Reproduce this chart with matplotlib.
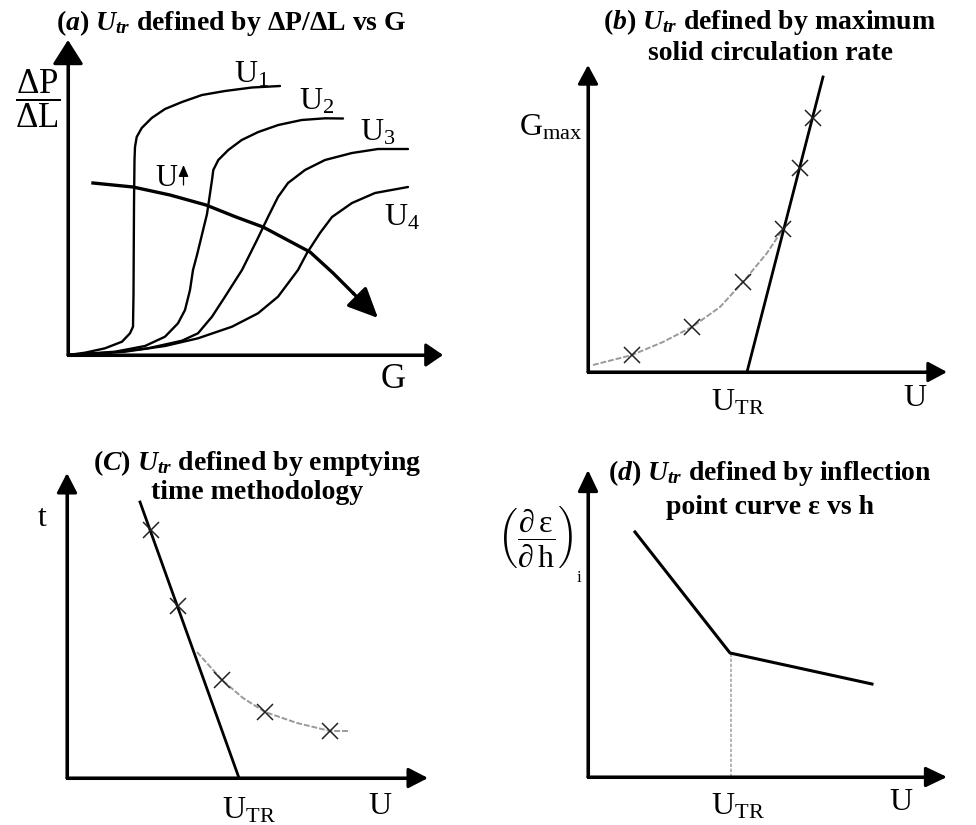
import matplotlib
matplotlib.use("Agg")
import matplotlib.pyplot as plt

# ── fonts: Times-like serif, math pieces use the same family ──
plt.rcParams["font.family"] = ["Liberation Serif", "DejaVu Serif"]
plt.rcParams["mathtext.fontset"] = "custom"
plt.rcParams["mathtext.rm"] = "Liberation Serif:bold"
plt.rcParams["mathtext.it"] = "Liberation Serif:italic:bold"
plt.rcParams["mathtext.bf"] = "Liberation Serif:bold"
plt.rcParams["mathtext.sf"] = "Liberation Serif"

# ── (a) dP/dL vs G, one curve per gas velocity (schematic units) ──
u1_g = [0, 17, 37, 54, 62, 65, 65.5, 66, 66.5, 67, 68.7, 73.7, 83.7, 97, 114, 134, 157, 184, 212]
u1_dp = [0, 2.3, 6.7, 13.3, 21.7, 28.3, 60, 150, 195, 208, 218, 227, 237, 246, 253, 260, 264, 267.5, 269]
u2_g = [0, 47, 77, 97, 110, 117, 122, 125, 129, 139, 144, 145.3, 150.3, 160.3, 173.7, 190.3,
        210.3, 233.7, 257, 275]
u2_dp = [0, 3.3, 9, 18.3, 31.7, 45, 65, 85, 100, 141, 175, 185, 195, 205, 215, 223,
         230, 235, 236.7, 236.5]
u3_g = [0, 37, 80, 114, 130, 144, 157, 174, 189, 200, 210, 220, 237, 257, 284, 310, 340]
u3_dp = [0, 1.7, 6.7, 14.3, 21.7, 38.3, 58.3, 85, 115, 138, 158, 172, 185, 195, 202, 206, 206]
u4_g = [0, 57, 97, 130, 164, 190, 210, 230, 239, 252, 264, 284, 307, 340]
u4_dp = [0, 3.3, 9, 16.7, 28.3, 41.7, 58.3, 85, 102, 122, 138, 152, 162, 168]
trend_g = [25, 65, 102, 138, 168, 195, 242, 265, 285, 310]
trend_dp = [172, 168, 160, 150, 138, 128, 103, 82, 62, 37]
curve_labels = ["U$_\\mathsf{1}$", "U$_\\mathsf{2}$", "U$_\\mathsf{3}$", "U$_\\mathsf{4}$"]

# ── (b) max solid circulation rate vs U ──
gmax_curve_u = [5, 44, 75, 104, 132, 155, 179, 195]
gmax_curve = [7, 17, 30, 45, 65, 90, 119, 143]
gmax_pts_u = [44, 104, 155, 195, 212, 225]
gmax_pts = [17, 45, 90, 143, 204, 254]
gmax_line_u = [159, 235]
gmax_line = [0, 295]

# ── (c) emptying time vs U ──
t_curve_u = [130, 155, 176, 198, 230, 263, 283]
t_curve = [126, 98, 80, 66, 55, 47, 47]
t_pts_u = [84, 111, 155, 198, 263]
t_pts = [248, 172, 98, 66, 47]
t_line_u = [73, 172]
t_line = [276, 0]

# ── (d) inflection-point slope vs U ──
slope_u = [47, 142, 284]
slope = [245, 124, 93]
u_tr_d = 143

FW, FH = 976, 825
fig = plt.figure(figsize=(FW / 100, FH / 100), dpi=100)


def panel(ox, oy, w, h):
    """axes whose origin sits at pixel (ox, oy), 1 data unit = 1 px"""
    ax = fig.add_axes([ox / FW, 1 - oy / FH, w / FW, h / FH])
    ax.set_xlim(0, w)
    ax.set_ylim(0, h)
    ax.set_axis_off()
    return ax


def arrow(ax, tip, start, hl, hw, lw):
    ax.annotate("", xy=tip, xytext=start, annotation_clip=False,
                arrowprops=dict(arrowstyle=f"-|>,head_length={hl},head_width={hw}",
                                mutation_scale=10, lw=lw, color="black",
                                shrinkA=0, shrinkB=0))


def axis_arrows(ax, yhead, xhead, lw=2.2):
    w = ax.get_xlim()[1]
    h = ax.get_ylim()[1]
    ax.plot([0, 0, w - 12], [h - 12, 0, 0], color="black", lw=lw,
            solid_joinstyle="miter", clip_on=False)
    arrow(ax, (0, h), (0, 0), *yhead, lw)
    arrow(ax, (w, 0), (0, 0), *xhead, lw)


def title(px, py, s):
    fig.text(px / FW, 1 - py / FH, s, ha="center", va="center",
             fontsize=20, fontweight="bold")


def label(ax, x, y, s, size=23):
    ax.text(x, y, s, ha="center", va="center", fontsize=size, clip_on=False)


# ── panel (a) ──
ax = panel(68, 355, 375, 315)
axis_arrows(ax, (1.5, 0.95), (1.05, 0.72))
for g, dp in ((u1_g, u1_dp), (u2_g, u2_dp), (u3_g, u3_dp), (u4_g, u4_dp)):
    ax.plot(g, dp, color="black", lw=1.7, solid_joinstyle="round",
            solid_capstyle="round", clip_on=False)
ax.plot(trend_g[:-1], trend_dp[:-1], color="black", lw=2.4,
        solid_joinstyle="round", clip_on=False)
arrow(ax, (trend_g[-1], trend_dp[-1]), (trend_g[-2], trend_dp[-2]), 1.85, 0.85, 2.4)
for (x, y), s in zip([(184, 280), (249, 253), (310, 222), (334, 137)], curve_labels):
    label(ax, x, y, s)
label(ax, 98, 176, "U", size=22)
arrow(ax, (115.5, 190), (115.5, 170), 0.7, 0.3, 0.9)
label(ax, -30, 256, r"$\dfrac{\mathsf{\Delta P}}{\mathsf{\Delta L}}$", size=25)
label(ax, 325, -24, r"$\mathsf{G}$", size=25)
title(231, 23, r"$\mathit{(a)\ U_{tr}}$ defined by ΔP/ΔL vs G")

# ── panel (b) ──
ax = panel(588, 372, 359, 307)
axis_arrows(ax, (1.15, 0.62), (1.15, 0.62))
ax.plot(gmax_curve_u, gmax_curve, color="#9a9a9a", lw=1.4, ls=(0, (3, 1)), clip_on=False)
ax.plot(gmax_line_u, gmax_line, color="black", lw=2.0, clip_on=False)
ax.plot(gmax_pts_u, gmax_pts, ls="none", marker="x", ms=11, mew=1.1,
        color="#222222", clip_on=False)
label(ax, -37, 244, r"$\mathsf{G_{max}}$")
label(ax, 150, -31, r"$\mathsf{U_{TR}}$")
label(ax, 327, -27, r"$\mathsf{U}$")
title(770, 22, r"$\mathit{(b)\ U_{tr}}$ defined by maximum")
title(770, 53, "solid circulation rate")

# ── panel (c) ──
ax = panel(67, 778, 361, 305)
axis_arrows(ax, (1.2, 0.62), (1.2, 0.62))
ax.plot(t_curve_u, t_curve, color="#9a9a9a", lw=1.4, ls=(0, (3, 1)), clip_on=False)
ax.plot(t_line_u, t_line, color="black", lw=2.0, clip_on=False)
ax.plot(t_pts_u, t_pts, ls="none", marker="x", ms=11, mew=1.1,
        color="#222222", clip_on=False)
label(ax, -25, 259, r"$\mathsf{t}$")
label(ax, 182, -33, r"$\mathsf{U_{TR}}$")
label(ax, 313, -28, r"$\mathsf{U}$")
title(257, 463, r"$\mathit{(C)\ U_{tr}}$ defined by emptying")
title(257, 493, "time methodology")

# ── panel (d) ──
ax = panel(588, 777, 359, 307)
axis_arrows(ax, (1.3, 0.62), (1.3, 0.62))
ax.plot([u_tr_d, u_tr_d], [0, slope[1]], color="#a8a8a8", lw=1.2, ls=(0, (2, 1)))
ax.plot(slope_u, slope, color="black", lw=2.2, clip_on=False)
label(ax, -53, 240,
      r"$\left(\dfrac{\mathsf{\partial\,\varepsilon}}{\mathsf{\partial\,h}}\right)$",
      size=23)
label(ax, -9, 199, r"$\mathsf{i}$", size=12)
label(ax, 150, -30, r"$\mathsf{U_{TR}}$")
label(ax, 313, -26, r"$\mathsf{U}$")
title(770, 473, r"$\mathit{(d)\ U_{tr}}$ defined by inflection")
title(770, 507, "point curve ε vs h")

fig.savefig("out.png", dpi=100, facecolor="white")
